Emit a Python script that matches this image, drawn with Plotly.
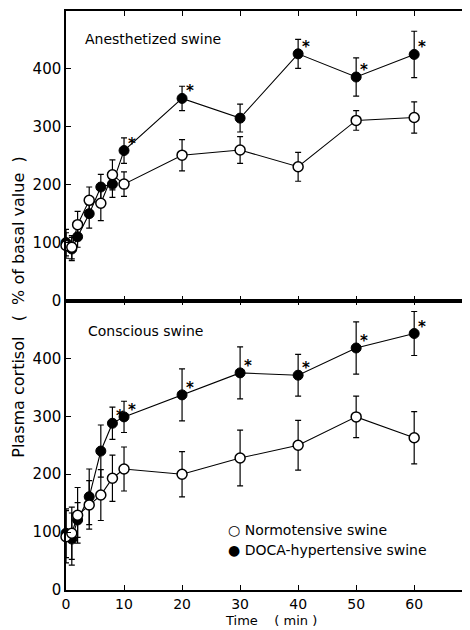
import plotly.graph_objects as go

# ---- data ----
time_min = [0, 1, 2, 4, 6, 8, 10, 20, 30, 40, 50, 60]

# Anesthetized swine (top panel)
anest_normo = [95, 92, 131, 173, 168, 217, 201, 251, 260, 231, 311, 316]
anest_normo_err = [22, 20, 23, 23, 30, 26, 21, 27, 23, 25, 17, 27]
anest_doca = [100, 89, 110, 150, 196, 201, 259, 349, 315, 426, 386, 425]
anest_doca_err = [23, 20, 18, 25, 22, 23, 22, 21, 24, 25, 33, 40]
anest_star_times = [10, 20, 40, 50, 60]

# Conscious swine (bottom panel)
consc_normo = [92, 98, 129, 147, 164, 193, 209, 200, 228, 250, 299, 263]
consc_normo_err = [45, 45, 48, 42, 44, 40, 38, 39, 48, 43, 36, 45]
consc_doca = [98, 88, 121, 161, 240, 288, 299, 337, 375, 371, 418, 443]
consc_doca_err = [42, 45, 30, 48, 45, 28, 27, 45, 45, 36, 45, 38]
consc_star_times = [8, 10, 20, 30, 40, 50, 60]

y_ticks = [0, 100, 200, 300, 400]
x_ticks = [0, 10, 20, 30, 40, 50, 60]

FONT = "DejaVu Sans"
BLACK = "black"

fig = go.Figure()


def add_pair(normo, normo_err, doca, doca_err, xa, ya):
    fig.add_trace(go.Scatter(
        x=time_min, y=doca, mode="lines+markers", xaxis=xa, yaxis=ya,
        cliponaxis=False,
        line=dict(color=BLACK, width=1.1),
        marker=dict(symbol="circle", size=10, color=BLACK,
                    line=dict(color=BLACK, width=1)),
        error_y=dict(type="data", array=doca_err, color=BLACK,
                     thickness=1.2, width=3),
        showlegend=False, name="DOCA-hypertensive swine"))
    fig.add_trace(go.Scatter(
        x=time_min, y=normo, mode="lines+markers", xaxis=xa, yaxis=ya,
        cliponaxis=False,
        line=dict(color=BLACK, width=1.1),
        marker=dict(symbol="circle", size=10, color="white",
                    line=dict(color=BLACK, width=1.5)),
        error_y=dict(type="data", array=normo_err, color=BLACK,
                     thickness=1.2, width=3),
        showlegend=False, name="Normotensive swine"))


add_pair(anest_normo, anest_normo_err, anest_doca, anest_doca_err, "x", "y")
add_pair(consc_normo, consc_normo_err, consc_doca, consc_doca_err, "x2", "y2")

STAR_FONT = dict(family=FONT, size=15, color="#000000")
annotations = []
for t in anest_star_times:
    v = anest_doca[time_min.index(t)]
    annotations.append(dict(x=t, y=v, xref="x", yref="y", text="<b>*</b>",
                            showarrow=False, xshift=8, yshift=7, font=STAR_FONT))
for t in consc_star_times:
    v = consc_doca[time_min.index(t)]
    annotations.append(dict(x=t, y=v, xref="x2", yref="y2", text="<b>*</b>",
                            showarrow=False, xshift=8, yshift=7, font=STAR_FONT))

# panel labels
annotations.append(dict(x=2.9, y=452, xref="x", yref="y", text="Anesthetized swine",
                        showarrow=False, xanchor="left", yanchor="middle",
                        font=dict(family=FONT, size=14, color=BLACK)))
annotations.append(dict(x=3.4, y=448, xref="x2", yref="y2", text="Conscious swine",
                        showarrow=False, xanchor="left", yanchor="middle",
                        font=dict(family=FONT, size=14, color=BLACK)))

# legend
annotations.append(dict(x=27.5, y=104, xref="x2", yref="y2", text="○ Normotensive swine",
                        showarrow=False, xanchor="left", yanchor="middle",
                        font=dict(family=FONT, size=14, color=BLACK)))
annotations.append(dict(x=27.5, y=69, xref="x2", yref="y2", text="● DOCA-hypertensive swine",
                        showarrow=False, xanchor="left", yanchor="middle",
                        font=dict(family=FONT, size=14, color=BLACK)))

# axis titles
annotations.append(dict(x=-0.119, y=0.488, xref="paper", yref="paper",
                        text="Plasma cortisol   (  % of basal value  )",
                        textangle=-90, showarrow=False, xanchor="center", yanchor="middle",
                        font=dict(family=FONT, size=16, color=BLACK)))
annotations.append(dict(x=0.51, y=-0.053, xref="paper", yref="paper",
                        text="Time    ( min )", showarrow=False,
                        xanchor="center", yanchor="middle",
                        font=dict(family=FONT, size=13, color=BLACK)))

xcommon = dict(range=[0, 69.1], tickvals=x_ticks, showline=True, linecolor=BLACK,
               linewidth=1.5, mirror="ticks", ticks="inside", ticklen=5,
               tickcolor=BLACK, tickwidth=1.3, showgrid=False, zeroline=False,
               tickfont=dict(family=FONT, size=14, color=BLACK))
ycommon = dict(range=[0, 500], tickvals=y_ticks, showline=True, linecolor=BLACK,
               linewidth=1.5, mirror="ticks", ticks="inside", ticklen=5,
               tickcolor=BLACK, tickwidth=1.3, showgrid=False, zeroline=False,
               tickfont=dict(family=FONT, size=15, color=BLACK))

# the page body adds an 8px offset, so the figure is 8px smaller in each direction
fig.update_layout(
    width=462, height=622,
    margin=dict(l=58, r=1, t=2, b=40),
    paper_bgcolor="white", plot_bgcolor="white",
    xaxis=dict(xcommon, anchor="y", domain=[0, 1], showticklabels=False),
    yaxis=dict(ycommon, anchor="x", domain=[0.5, 1]),
    xaxis2=dict(xcommon, anchor="y2", domain=[0, 1]),
    yaxis2=dict(ycommon, anchor="x2", domain=[0, 0.5]),
    annotations=annotations,
    showlegend=False,
)

fig.write_html("out.html")
